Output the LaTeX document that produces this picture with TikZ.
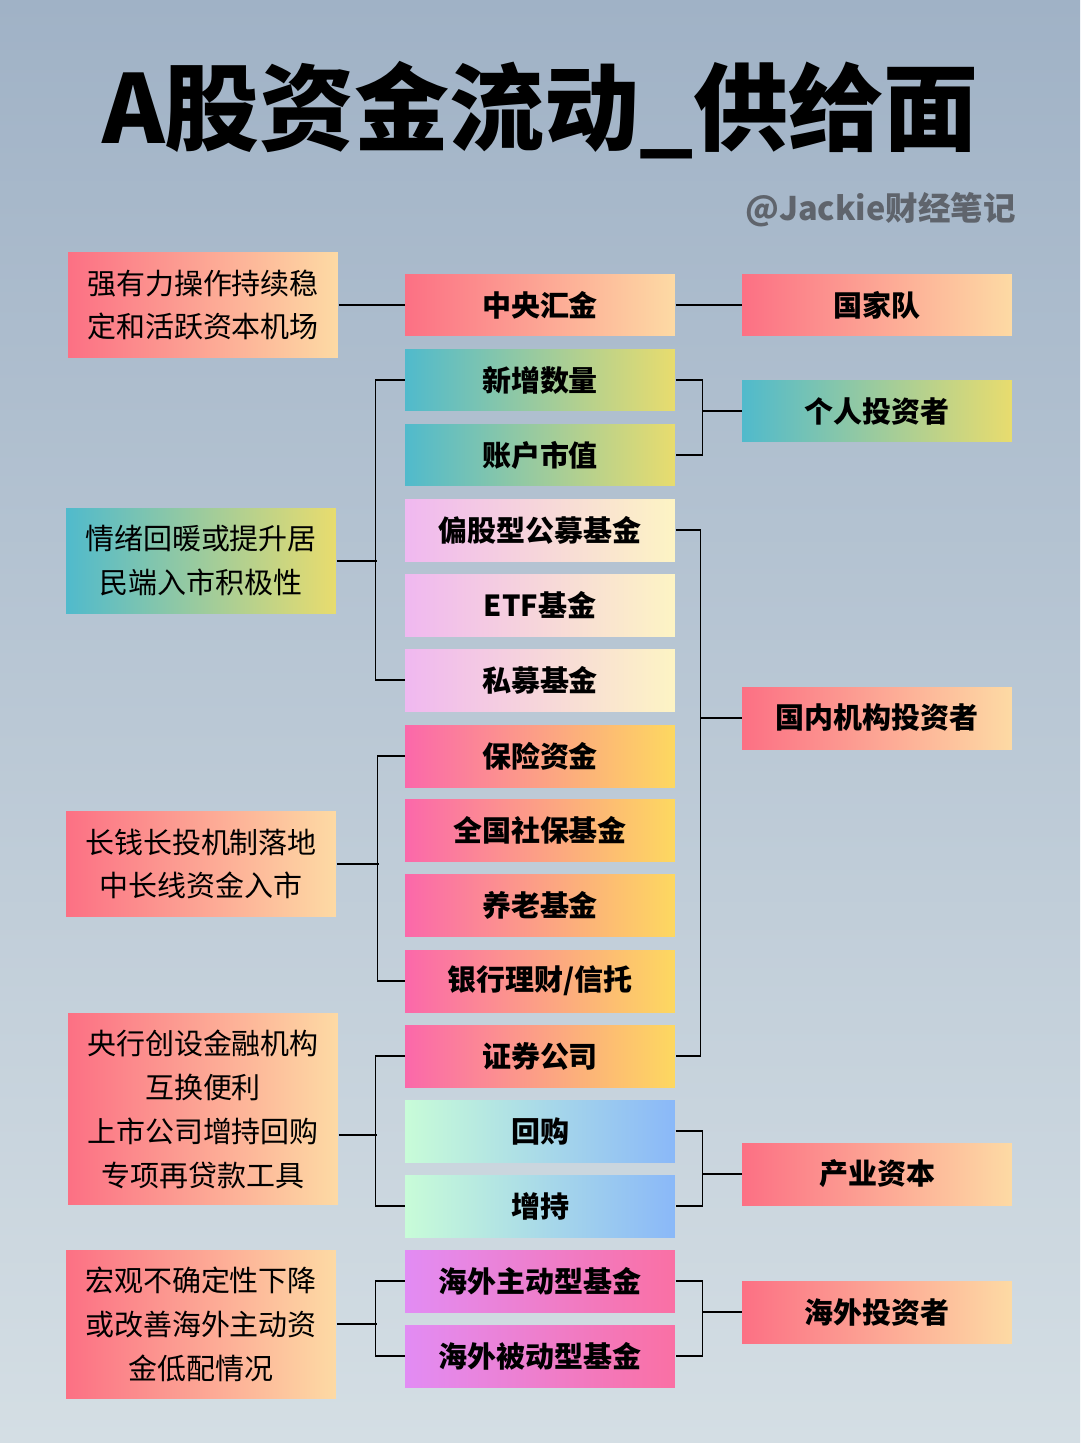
\documentclass[tikz,border=0pt]{standalone}
\usepackage{fontspec}
\setmainfont{Noto Sans CJK SC}
\usetikzlibrary{positioning}
\definecolor{bg_top}{RGB}{160,178,198}
\definecolor{bg_bot}{RGB}{212,222,228}
\definecolor{red_l}{RGB}{252,112,132}
\definecolor{red_r}{RGB}{253,218,164}
\definecolor{teal_l}{RGB}{80,186,204}
\definecolor{teal_r}{RGB}{232,220,110}
\definecolor{pas_l}{RGB}{240,184,240}
\definecolor{pas_r}{RGB}{253,244,196}
\definecolor{mag_l}{RGB}{251,104,170}
\definecolor{mag_r}{RGB}{253,216,96}
\definecolor{mint_l}{RGB}{200,252,216}
\definecolor{mint_r}{RGB}{138,184,248}
\definecolor{vio_l}{RGB}{226,140,244}
\definecolor{vio_r}{RGB}{250,112,164}
\definecolor{sub_gray}{RGB}{95,100,108}

\begin{document}
\begin{tikzpicture}[x=0.02cm,y=-0.02cm,semithick]
    \tikzstyle{box}=[minimum width=5.4cm, minimum height=1.24cm, inner sep=0pt, text=black, font=\fontsize{16.5}{20}\selectfont\bfseries]
    \tikzstyle{note}=[minimum width=5.4cm, inner sep=0pt, text=black, align=center, font=\fontsize{16.5}{25}\selectfont]
    \tikzstyle{red}=[left color=red_l, right color=red_r]
    \tikzstyle{teal}=[left color=teal_l, right color=teal_r]
    \tikzstyle{pas}=[left color=pas_l, right color=pas_r]
    \tikzstyle{mag}=[left color=mag_l, right color=mag_r]
    \tikzstyle{mint}=[left color=mint_l, right color=mint_r]
    \tikzstyle{vio}=[left color=vio_l, right color=vio_r]
    \tikzstyle{wire}=[black, line width=0.9pt]

    \shade[top color=bg_top, bottom color=bg_bot] (0,0) rectangle (1080,1443);
    \useasboundingbox (0,0) rectangle (1080,1443);

    \node (title) at (540,110) {\fontsize{54}{60}\selectfont\bfseries A股资金流动\_供给面};
    \node[text=sub_gray, anchor=east] (sub) at (1022,210) {\fontsize{18.5}{22}\selectfont\bfseries @Jackie财经笔记};

    % middle column
    \node[box, red]  (hj) at (540,305)  {中央汇金};
    \node[box, teal] (xz) at (540,380)  {新增数量};
    \node[box, teal] (zh) at (540,455)  {账户市值};
    \node[box, pas]  (pg) at (540,530)  {偏股型公募基金};
    \node[box, pas]  (etf) at (540,605) {ETF基金};
    \node[box, pas]  (sm) at (540,680)  {私募基金};
    \node[box, mag]  (bx) at (540,756)  {保险资金};
    \node[box, mag]  (sb) at (540,830)  {全国社保基金};
    \node[box, mag]  (yl) at (540,905)  {养老基金};
    \node[box, mag]  (yh) at (540,981)  {银行理财/信托};
    \node[box, mag]  (zq) at (540,1056) {证券公司};
    \node[box, mint] (hg) at (540,1131) {回购};
    \node[box, mint] (zc) at (540,1206) {增持};
    \node[box, vio]  (hz) at (540,1281) {海外主动型基金};
    \node[box, vio]  (hb) at (540,1356) {海外被动型基金};

    % right column
    \node[box, red]  (gjd) at (877,305)  {国家队};
    \node[box, teal] (gr)  at (877,411)  {个人投资者};
    \node[box, red]  (gn)  at (877,718)  {国内机构投资者};
    \node[box, red]  (cy)  at (877,1174) {产业资本};
    \node[box, red]  (hw)  at (877,1312) {海外投资者};

    % left column
    \node[note, red, minimum height=2.1cm]  (n1) at (203,305)  {强有力操作持续稳\\定和活跃资本机场};
    \node[note, teal, minimum height=2.1cm] (n2) at (201,561)  {情绪回暖或提升居\\民端入市积极性};
    \node[note, red, minimum height=2.1cm]  (n3) at (201,864)  {长钱长投机制落地\\中长线资金入市};
    \node[note, red, minimum height=3.84cm] (n4) at (203,1109) {央行创设金融机构\\互换便利\\上市公司增持回购\\专项再贷款工具};
    \node[note, red, minimum height=2.96cm] (n5) at (201,1324) {宏观不确定性下降\\或改善海外主动资\\金低配情况};

    % connectors
    \draw[wire] (n1.east) -- (hj.west);
    \draw[wire] (hj.east) -- (gjd.west);
    \draw[wire] (xz.west) -- ++(-29,0) |- (sm.west);
    \draw[wire] (n2.east) -- ++(40,0);
    \draw[wire] (xz.east) -- ++(27,0) |- (zh.east);
    \draw[wire] (gr.west) -- ++(-40,0);
    \draw[wire] (pg.east) -- ++(25,0) |- (zq.east);
    \draw[wire] (gn.west) -- ++(-42,0);
    \draw[wire] (bx.west) -- ++(-27,0) |- (yh.west);
    \draw[wire] (n3.east) -- ++(42,0);
    \draw[wire] (zq.west) -- ++(-29,0) |- (zc.west);
    \draw[wire] (n4.east) ++(0,26) -- ++(38,0);
    \draw[wire] (hg.east) -- ++(27,0) |- (zc.east);
    \draw[wire] (cy.west) -- ++(-40,0);
    \draw[wire] (hz.west) -- ++(-29,0) |- (hb.west);
    \draw[wire] (n5.east) -- ++(40,0);
    \draw[wire] (hz.east) -- ++(27,0) |- (hb.east);
    \draw[wire] (hw.west) -- ++(-40,0);
\end{tikzpicture}
\end{document}
